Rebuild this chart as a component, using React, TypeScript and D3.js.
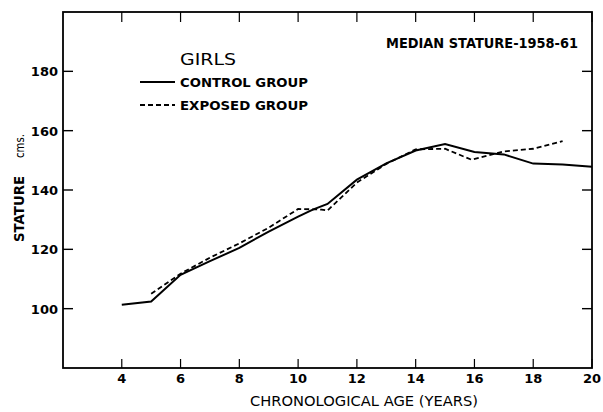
import React from "react";
import * as d3 from "d3";

const controlAges = [4, 5, 6, 7, 8, 9, 10, 10.5, 11, 12, 13, 14, 15, 16, 17, 18, 19, 20];
const controlValues = [101.3, 102.4, 111.4, 116, 120.5, 126, 131, 133.4, 135.3, 143.5, 149, 153.3, 155.5, 152.8, 152, 148.9, 148.6, 147.8];
const exposedAges = [5, 6, 7, 8, 9, 10, 10.8, 11, 12, 13, 14, 15, 15.9, 17, 18, 19];
const exposedValues = [105, 111.8, 117.2, 122, 127.3, 133.6, 133.4, 133.1, 142.5, 148.8, 153.7, 153.9, 150.2, 153, 153.9, 156.5];
const xTicks = [4, 6, 8, 10, 12, 14, 16, 18, 20];
const yTicks = [100, 120, 140, 160, 180];

const W = 603;
const H = 412;
const left = 63, right = 592, top = 12, bottom = 368;
const font = "DejaVu Sans, sans-serif";

export default function App() {
  const x = d3.scaleLinear().domain([2, 20]).range([left, right]);
  const y = d3.scaleLinear().domain([80, 200]).range([bottom, top]);
  const line = d3.line<[number, number]>().x(d => x(d[0])).y(d => y(d[1]));
  const control = controlAges.map((a, i) => [a, controlValues[i]] as [number, number]);
  const exposed = exposedAges.map((a, i) => [a, exposedValues[i]] as [number, number]);
  return (
    <svg width={W} height={H} style={{ position: "absolute", left: 0, top: 0, background: "#fff" }}>
      <rect x={0} y={0} width={W} height={H} fill="#fff" />
      <rect x={left} y={top} width={right - left} height={bottom - top} fill="none" stroke="#000" strokeWidth={1.8} />
      {xTicks.map(t => (
        <g key={"x" + t}>
          <line x1={x(t)} x2={x(t)} y1={bottom} y2={bottom - 9} stroke="#000" strokeWidth={1.2} />
          <line x1={x(t)} x2={x(t)} y1={top} y2={top + 10} stroke="#000" strokeWidth={1.2} />
          <text x={x(t)} y={383} textAnchor="middle" fontFamily={font} fontSize={13} fontWeight="bold">{t}</text>
        </g>
      ))}
      {yTicks.map(t => (
        <g key={"y" + t}>
          <line x1={left} x2={left + 10} y1={y(t)} y2={y(t)} stroke="#000" strokeWidth={1.4} />
          <line x1={right} x2={right - 10} y1={y(t)} y2={y(t)} stroke="#000" strokeWidth={1.4} />
          <text x={58} y={y(t) + 5} textAnchor="end" fontFamily={font} fontSize={13} fontWeight="bold">{t}</text>
        </g>
      ))}
      <text x={364} y={406} textAnchor="middle" fontFamily={font} fontSize={14} textLength={228} lengthAdjust="spacingAndGlyphs">CHRONOLOGICAL AGE (YEARS)</text>
      <text transform={`translate(24,209) rotate(-90)`} textAnchor="middle" fontFamily={font} fontSize={14} fontWeight="bold" textLength={66} lengthAdjust="spacingAndGlyphs">STATURE</text>
      <text transform={`translate(24,146) rotate(-90)`} textAnchor="middle" fontFamily={font} fontSize={12} textLength={24} lengthAdjust="spacingAndGlyphs">cms.</text>
      <text x={386} y={48} fontFamily={font} fontSize={14} fontWeight="bold" textLength={192} lengthAdjust="spacingAndGlyphs">MEDIAN STATURE-1958-61</text>
      <text x={180} y={65} fontFamily={font} fontSize={16} textLength={56} lengthAdjust="spacingAndGlyphs">GIRLS</text>
      <line x1={140} x2={175} y1={82} y2={82} stroke="#000" strokeWidth={2} />
      <text x={180} y={87} fontFamily={font} fontSize={13} fontWeight="bold" textLength={128} lengthAdjust="spacingAndGlyphs">CONTROL GROUP</text>
      <line x1={140} x2={175} y1={105} y2={105} stroke="#000" strokeWidth={1.8} strokeDasharray="5,3" />
      <text x={180} y={110} fontFamily={font} fontSize={13} fontWeight="bold" textLength={128} lengthAdjust="spacingAndGlyphs">EXPOSED GROUP</text>
      <path d={line(control) || ""} fill="none" stroke="#000" strokeWidth={2} />
      <path d={line(exposed) || ""} fill="none" stroke="#000" strokeWidth={1.8} strokeDasharray="5,3" />
    </svg>
  );
}
